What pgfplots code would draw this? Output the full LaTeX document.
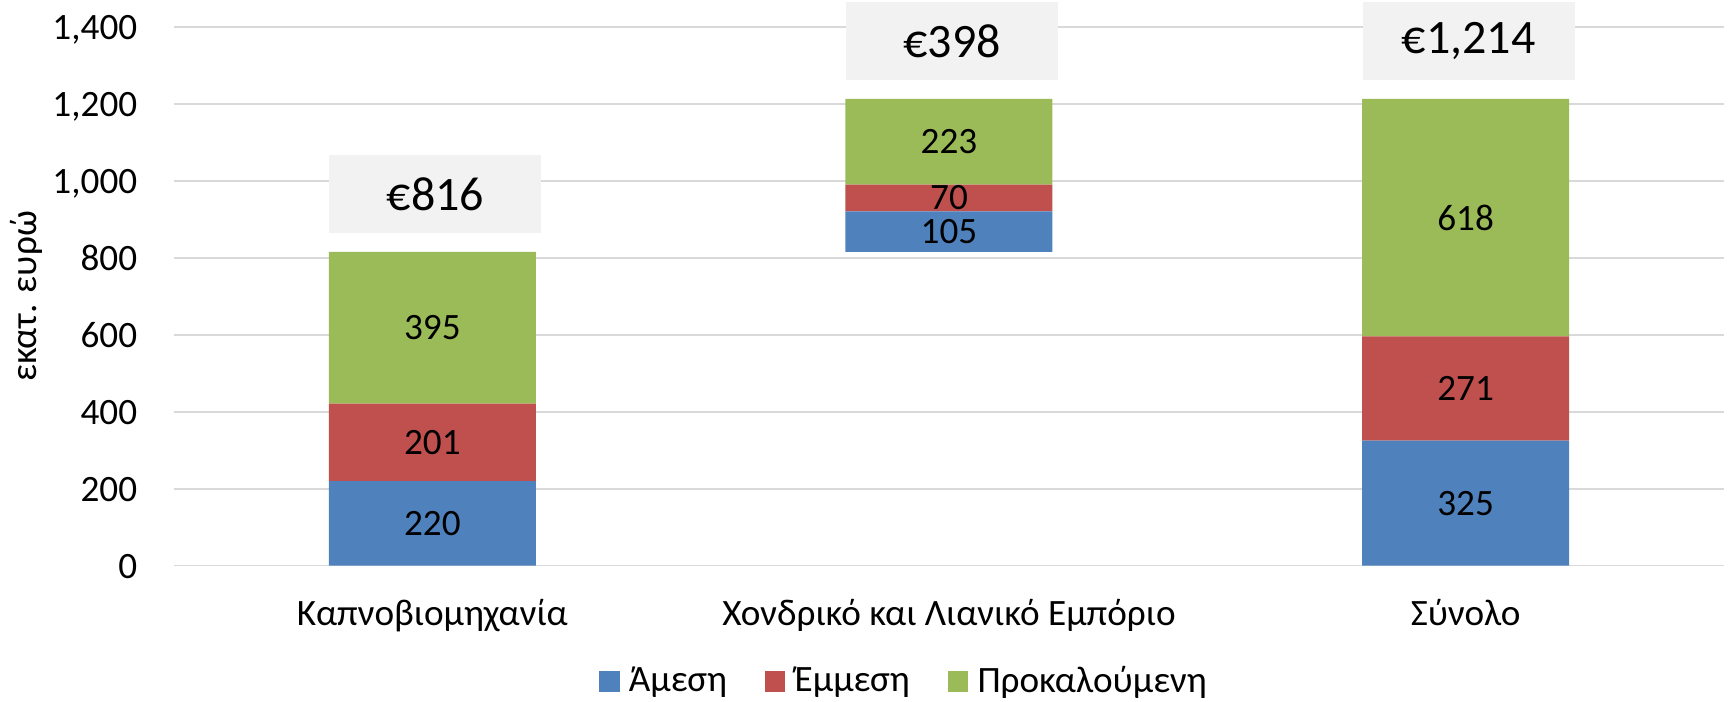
\documentclass[border=0pt]{standalone}
\usepackage{fontspec}
\setmainfont{Carlito}
\usepackage{pgfplots}
\usepackage{pgfplotstable}
\pgfplotsset{compat=1.18}

\definecolor{amesi}{HTML}{4F81BD}
\definecolor{emmesi}{HTML}{C0504D}
\definecolor{prokal}{HTML}{9BBB59}
\definecolor{boxgray}{HTML}{F2F2F2}
\definecolor{gridgray}{HTML}{D9D9D9}

% base = invisible offset for the middle (waterfall) bar
\pgfplotstableread{
x base amesi emmesi prokal total
0 0    220   201    395    816
1 816  105   70     223    398
2 0    325   271    618    1214
}\impact

\pgfplotsset{
  frame/.style={
    at={(43.5pt,33.85pt)}, anchor=south west,
    scale only axis, width=387.5pt, height=134.575pt,
    xmin=-0.5, xmax=2.5, ymin=0, ymax=1400, clip=false,
    /pgf/number format/1000 sep={,},
    /pgf/number format/assume math mode=true,
  },
  seglabel/.style={draw=none, mark=none, nodes near coords, point meta=explicit,
    every node near coord/.style={anchor=center, text=black, inner sep=0pt}},
  segment/.style={fill=#1, draw=none,
    legend image code/.code={\fill[##1] (0pt,-2.4pt) rectangle (5.2pt,2.8pt);}},
}

\begin{document}
\begin{tikzpicture}[font=\fontsize{9.3}{11.2}\selectfont]
\path[use as bounding box] (0,0) rectangle (432.25pt,175.25pt);
\begin{axis}[
  frame,
  ybar stacked, bar width=51.75pt,
  xtick={0,1,2},
  xticklabels={Καπνοβιομηχανία, Χονδρικό και Λιανικό Εμπόριο, Σύνολο},
  ytick={0,200,...,1400},
  ymajorgrids, grid style={gridgray, line width=0.42pt},
  axis line style={draw=none}, major tick length=0pt,
  yticklabel style={anchor=east, inner sep=0pt, xshift=-9pt, text height=0.63em, text depth=0pt},
  xticklabel style={anchor=base, inner sep=0pt, yshift=-14.85pt},
  ylabel={εκατ. ευρώ},
  ylabel style={at={(axis description cs:-0.0890,0.5)}, anchor=base},
  legend columns=3,
  legend style={at={(axis description cs:0.2736,-0.2166)}, anchor=west, draw=none, fill=none,
    inner sep=0pt, nodes={inner sep=0pt},
    /tikz/every odd column/.style={column sep=2.3pt},
    /tikz/every even column/.style={column sep=9.4pt}},
]
\addplot[draw=none, fill=none, forget plot] table[x=x, y=base] {\impact};
\addplot[segment=amesi] table[x=x, y=amesi] {\impact};
\addlegendentry{Άμεση}
\addplot[segment=emmesi] table[x=x, y=emmesi] {\impact};
\addlegendentry{Έμμεση}
\addplot[segment=prokal] table[x=x, y=prokal] {\impact};
\addlegendentry{Προκαλούμενη}
\end{axis}
% labels: same frame, no stacking
\begin{axis}[frame, hide axis]
\addplot[seglabel] table[x=x, y expr=\thisrow{base}+0.5*\thisrow{amesi}, meta=amesi] {\impact};
\addplot[seglabel] table[x=x, y expr=\thisrow{base}+\thisrow{amesi}+0.5*\thisrow{emmesi}, meta=emmesi] {\impact};
\addplot[seglabel] table[x=x, y expr=\thisrow{base}+\thisrow{amesi}+\thisrow{emmesi}+0.5*\thisrow{prokal}, meta=prokal] {\impact};
% totals in grey boxes above each bar
\addplot[draw=none, mark=none, point meta=explicit,
  nodes near coords={€\pgfmathprintnumber{\pgfplotspointmeta}},
  every node near coord/.style={anchor=south, fill=boxgray, text=black, inner sep=0pt,
    minimum width=53pt, minimum height=19.4pt, yshift=4.5pt, xshift=0.75pt,
    font=\fontsize{12}{14}\selectfont}]
  table[x=x, y expr=\thisrow{base}+\thisrow{amesi}+\thisrow{emmesi}+\thisrow{prokal}, meta=total] {\impact};
\end{axis}
\end{tikzpicture}
\end{document}
